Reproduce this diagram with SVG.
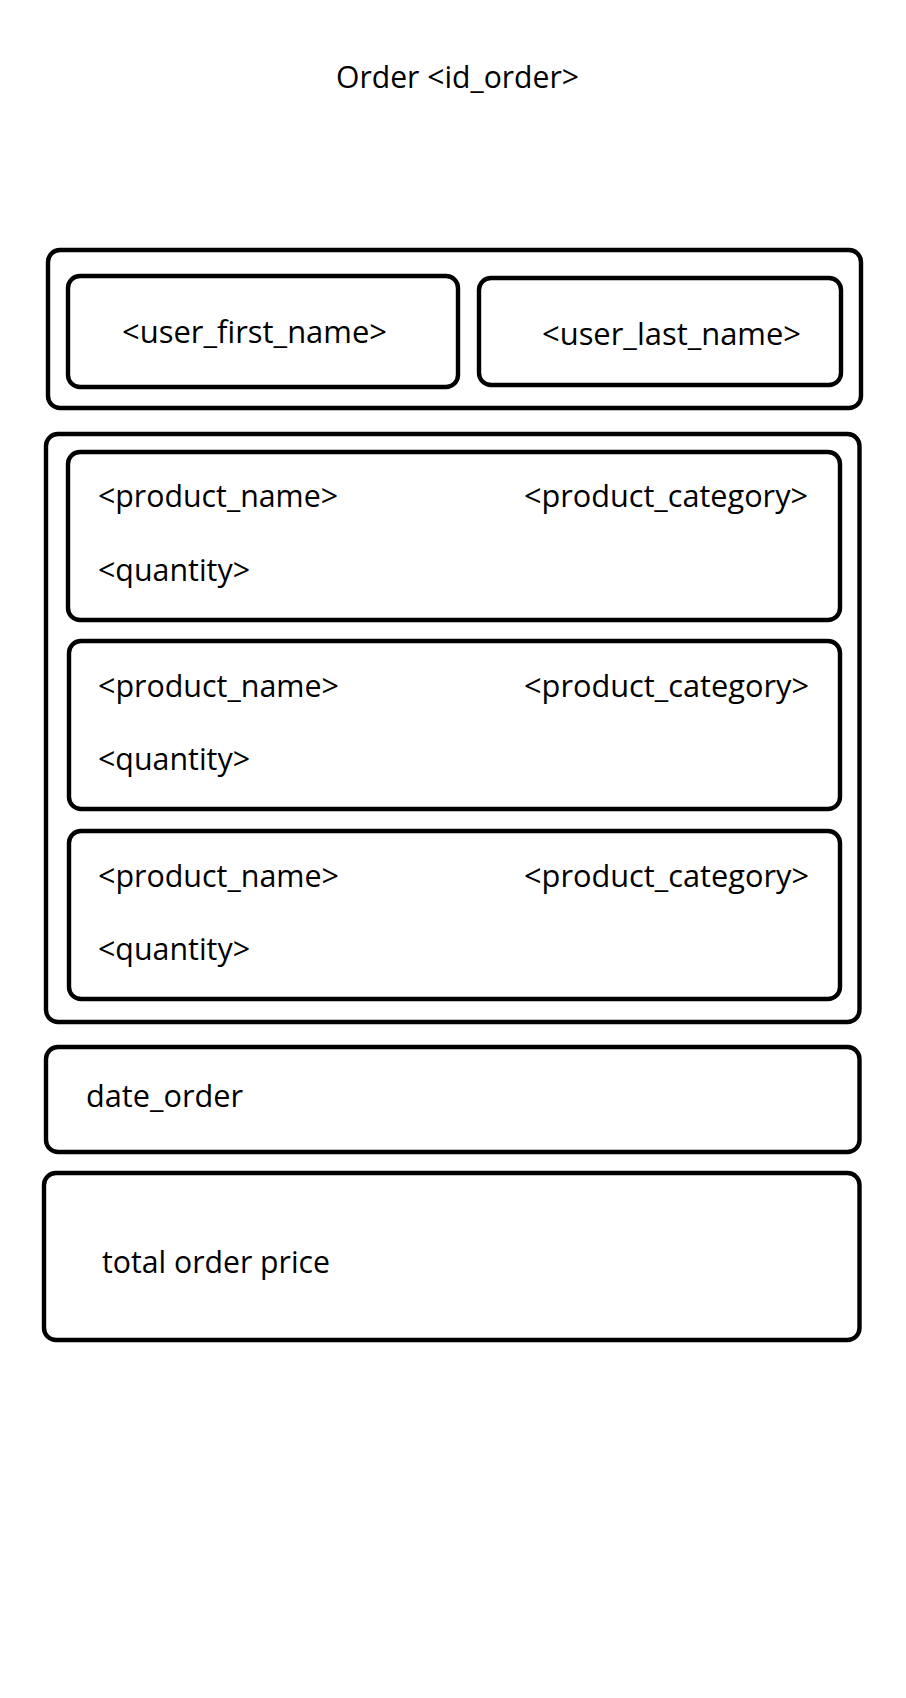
<svg xmlns="http://www.w3.org/2000/svg" width="906" height="1698" viewBox="0 0 906 1698">
<style>
.box{fill:none;stroke:#000;stroke-width:4.4}
.t{font-family:"Open Sans","Liberation Sans",sans-serif;font-size:31px;fill:#000}
</style>
<rect width="906" height="1698" fill="#fff"/>
<g id="title"><text class="t" x="336" y="88" textLength="243" lengthAdjust="spacingAndGlyphs">Order &lt;id_order&gt;</text></g>
<g id="user">
<rect class="box" x="48" y="250" width="813" height="158" rx="12"/>
<g id="first_name"><rect class="box" x="68" y="276" width="390" height="111" rx="12"/>
<text class="t" x="122" y="343" textLength="265" lengthAdjust="spacingAndGlyphs">&lt;user_first_name&gt;</text></g>
<g id="last_name"><rect class="box" x="479" y="278" width="362" height="107" rx="12"/>
<text class="t" x="542" y="345" textLength="259" lengthAdjust="spacingAndGlyphs">&lt;user_last_name&gt;</text></g>
</g>
<g id="products">
<rect class="box" x="46" y="434" width="813.5" height="588" rx="12"/>
<g id="product1"><rect class="box" x="68" y="452" width="772" height="168" rx="12"/>
<text class="t" x="98" y="507" textLength="240" lengthAdjust="spacingAndGlyphs">&lt;product_name&gt;</text>
<text class="t" x="524" y="507" textLength="284" lengthAdjust="spacingAndGlyphs">&lt;product_category&gt;</text>
<text class="t" x="98" y="581" textLength="152" lengthAdjust="spacingAndGlyphs">&lt;quantity&gt;</text></g>
<g id="product2"><rect class="box" x="69" y="641" width="771" height="168" rx="12"/>
<text class="t" x="98" y="697" textLength="241" lengthAdjust="spacingAndGlyphs">&lt;product_name&gt;</text>
<text class="t" x="524" y="697" textLength="285" lengthAdjust="spacingAndGlyphs">&lt;product_category&gt;</text>
<text class="t" x="98" y="770" textLength="152" lengthAdjust="spacingAndGlyphs">&lt;quantity&gt;</text></g>
<g id="product3"><rect class="box" x="69" y="831" width="771" height="168" rx="12"/>
<text class="t" x="98" y="887" textLength="241" lengthAdjust="spacingAndGlyphs">&lt;product_name&gt;</text>
<text class="t" x="524" y="887" textLength="285" lengthAdjust="spacingAndGlyphs">&lt;product_category&gt;</text>
<text class="t" x="98" y="960" textLength="152" lengthAdjust="spacingAndGlyphs">&lt;quantity&gt;</text></g>
</g>
<g id="date"><rect class="box" x="46" y="1047" width="813.5" height="105" rx="12"/>
<text class="t" x="86" y="1107" textLength="157" lengthAdjust="spacingAndGlyphs">date_order</text></g>
<g id="total"><rect class="box" x="44" y="1173" width="815.5" height="167" rx="12"/>
<text class="t" x="102" y="1273" textLength="228" lengthAdjust="spacingAndGlyphs">total order price</text></g>
<g id="connectors"/>
</svg>
